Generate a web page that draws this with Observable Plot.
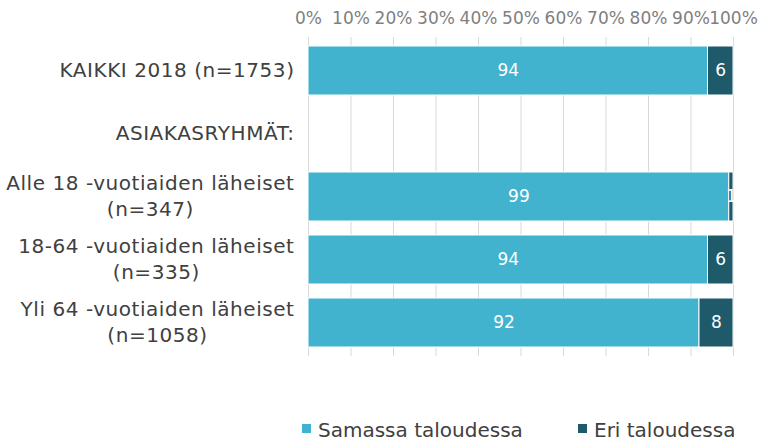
<!DOCTYPE html>
<html>
<head>
<meta charset="utf-8">
<script src="https://cdn.jsdelivr.net/npm/d3@7"></script>
<script src="https://cdn.jsdelivr.net/npm/@observablehq/plot@0.6"></script>
<style>
  html, body { margin: 0; padding: 0; background: #fff; }
  #wrap { position: relative; width: 760px; height: 441px; font-family: "DejaVu Sans", Verdana, sans-serif; }
  #legend { position: absolute; top: 420px; left: 0; width: 760px; height: 20px; font-size: 20px; line-height: 20px; color: #404040; }
  .item { position: absolute; top: 0; height: 20px; display: flex; align-items: center; white-space: nowrap; }
  .sw { width: 9px; height: 9px; display: inline-block; margin-right: 7px; margin-top: -3px; }
</style>
</head>
<body>
<div id="wrap"><div id="chart"></div><div id="legend"></div></div>
<script>
// ---- data ----
const categories = [
  "KAIKKI 2018 (n=1753)",
  "ASIAKASRYHMÄT:",
  "Alle 18 -vuotiaiden läheiset\n(n=347)",
  "18-64 -vuotiaiden läheiset\n(n=335)",
  "Yli 64 -vuotiaiden läheiset\n(n=1058)"
];
const seriesNames = ["Samassa taloudessa", "Eri taloudessa"];
const samassa = [94, null, 99, 94, 92];
const eri = [6, null, 1, 6, 8];
const xTicks = [0, 10, 20, 30, 40, 50, 60, 70, 80, 90, 100];
const colors = ["#41B3CE", "#1E5A69"];

// ---- build table ----
const rows = [];
categories.forEach((c, i) => {
  if (samassa[i] != null) rows.push({cat: c, series: seriesNames[0], value: samassa[i]});
  if (eri[i] != null) rows.push({cat: c, series: seriesNames[1], value: eri[i]});
});

const labelFont = 20;
const labelSpacing = 0.55;
const ctx = document.createElement("canvas").getContext("2d");
ctx.font = `${labelFont}px "DejaVu Sans"`;
if ("letterSpacing" in ctx) ctx.letterSpacing = labelSpacing + "px";
const labelRows = categories.map(c => {
  const parts = c.split("\n");
  return {cat: c, l1: parts[0], l2: parts[1] || null, w: ctx.measureText(parts[0]).width};
});
const single = labelRows.filter(d => !d.l2);
const multi = labelRows.filter(d => d.l2);

const gap = 14;
const textColor = "#404040";

const marks = [
  Plot.gridX(xTicks, {stroke: "#d9d9d9", strokeOpacity: 1, strokeWidth: 1}),
  Plot.barX(rows, Plot.stackX({
    y: "cat", x: "value", fill: "series", z: "series",
    stroke: "white", strokeWidth: 1
  })),
  Plot.text(rows, Plot.stackX({
    y: "cat", x: "value", z: "series", text: d => String(d.value),
    fill: "white", fontSize: 17
  })),
  Plot.axisX(xTicks, {anchor: "top", tickSize: 0, tickPadding: 14, tickFormat: d => d + "%",
    fontSize: 17, fill: "#7f7f7f", label: null}),
  Plot.text(single, {y: "cat", text: "l1", frameAnchor: "left", dx: -gap, textAnchor: "end",
    fontSize: labelFont, fill: textColor}),
  Plot.text(multi, {y: "cat", text: "l1", frameAnchor: "left", dx: -gap, dy: -13, textAnchor: "end",
    fontSize: labelFont, fill: textColor}),
  ...multi.map(d => Plot.text([d], {y: "cat", text: "l2", frameAnchor: "left",
    dx: -gap - d.w / 2, dy: 13, textAnchor: "middle", fontSize: labelFont, fill: textColor}))
];

const chart = Plot.plot({
  width: 760,
  height: 400,
  marginLeft: 308,
  marginRight: 27,
  marginTop: 37,
  marginBottom: 44,
  style: {fontFamily: '"DejaVu Sans", Verdana, sans-serif', background: "white"},
  x: {domain: [0, 100], axis: null},
  y: {domain: categories, axis: null, paddingInner: 0.22, paddingOuter: 0.11},
  color: {domain: seriesNames, range: colors},
  marks
});
// widen the category labels a little (Verdana-like spacing)
d3.select(chart).selectAll('g[aria-label="text"]').filter((d, i) => i > 0)
  .attr("letter-spacing", labelSpacing);
document.getElementById("chart").appendChild(chart);

// ---- legend ----
const legend = document.getElementById("legend");
const legendX = [302, 578];
seriesNames.forEach((s, i) => {
  const it = document.createElement("div");
  it.className = "item";
  it.style.left = legendX[i] + "px";
  const sw = document.createElement("span");
  sw.className = "sw";
  sw.style.background = colors[i];
  const tx = document.createElement("span");
  tx.textContent = s;
  it.appendChild(sw); it.appendChild(tx);
  legend.appendChild(it);
});
</script>
</body>
</html>
